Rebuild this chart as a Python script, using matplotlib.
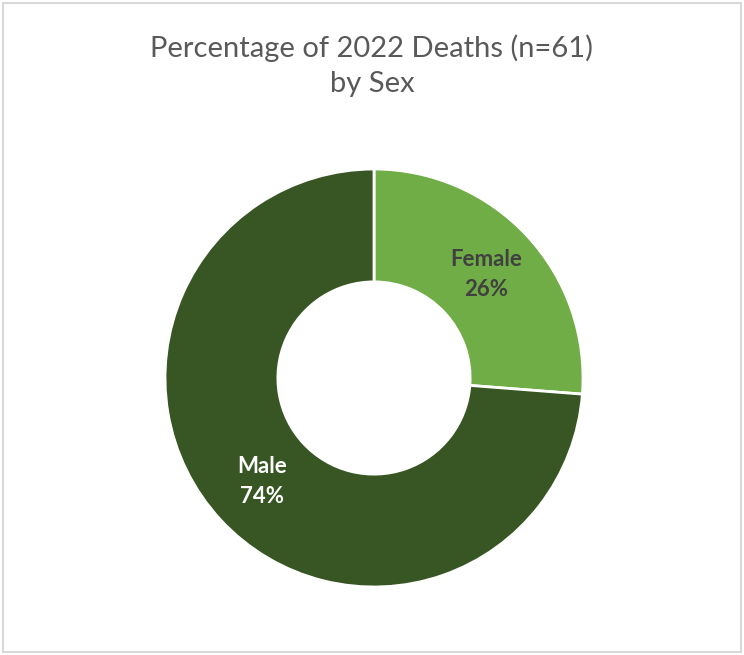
import matplotlib
matplotlib.use('Agg')
import matplotlib.pyplot as plt
from matplotlib.patches import Rectangle

# data
sexes = ['Female', 'Male']
deaths = [16, 45]
colors = ['#70AD47', '#375623']
label_colors = ['#404040', 'white']
title = 'Percentage of 2022 Deaths (n=61)\nby Sex'

plt.rcParams['font.family'] = ['Lato', 'DejaVu Sans']

fig = plt.figure(figsize=(7.44, 6.55), dpi=100)
fig.patches.append(Rectangle((0.004, 0.004), 0.992, 0.991, transform=fig.transFigure,
                             fill=False, edgecolor='#D9D9D9', linewidth=1.5))

ax = fig.add_axes([0.2218, 0.1038, 0.5618, 0.6382])
total = sum(deaths)
wedges, texts = ax.pie(deaths, colors=colors, startangle=90, counterclock=False,
                       radius=1, wedgeprops=dict(width=0.54, edgecolor='white', linewidth=2),
                       labels=[f'{s}\n{round(100 * d / total)}%' for s, d in zip(sexes, deaths)],
                       labeldistance=0.73)
for t, c in zip(texts, label_colors):
    t.set_color(c)
    t.set_fontsize(16)
    t.set_fontweight('bold')
    t.set_ha('center')
    t.set_va('center')
    t.set_linespacing(1.55)
ax.set_xlim(-1, 1)
ax.set_ylim(-1, 1)
ax.set_aspect('equal')

fig.text(0.5, 0.9, title, ha='center', va='center', fontsize=21,
         color='#595959', linespacing=1.4)

fig.savefig('out.png', dpi=100)
